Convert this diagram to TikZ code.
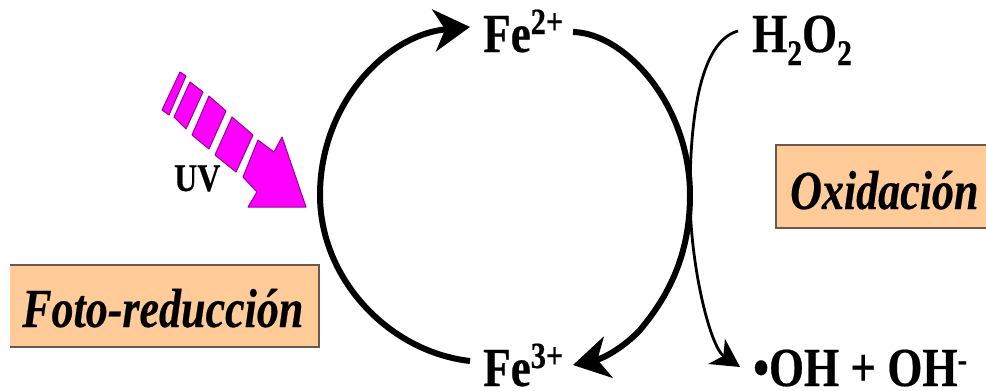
\documentclass[tikz,border=0pt]{standalone}
\usepackage{fontspec}
\usetikzlibrary{arrows.meta}
\setmainfont{Liberation Serif}
\newfontfamily\labf[FakeStretch=0.82,FakeBold=0.4]{Liberation Serif}
\newfontfamily\labi[FakeStretch=0.80,FakeBold=0.4]{Liberation Serif}
\newcommand{\bigb}{\fontsize{55}{60}\selectfont\labf\bfseries}
\newcommand{\bigi}{\fontsize{55}{60}\selectfont\labi\bfseries\itshape}
\newcommand{\supb}[1]{\raisebox{18pt}{\fontsize{37}{38}\selectfont #1}}
\newcommand{\minb}[1]{\raisebox{15pt}{\fontsize{35}{36}\selectfont #1}}
\newcommand{\subb}[1]{\raisebox{-13pt}{\fontsize{36}{37}\selectfont #1}}
\definecolor{boxfill}{HTML}{FFCC99}
\definecolor{boxline}{HTML}{6B5A4A}
\definecolor{uvmag}{HTML}{FF00FF}
\definecolor{uvline}{HTML}{990099}
\tikzset{
  chem/.style={anchor=base west,inner sep=0pt,font=\bigb},
  boxlabel/.style={anchor=base west,inner sep=0pt,font=\bigi},
  heavy/.style={line width=6pt,black},
  thinarc/.style={line width=2.8pt,black},
  heavytip/.style={-{Stealth[length=36pt,width=42pt,inset=11pt]}},
  thintip/.style={-{Stealth[length=28pt,width=30pt,inset=8pt]}},
  uvpiece/.style={draw=uvline,line width=1pt,fill=uvmag,line join=round}
}
\begin{document}
\begin{tikzpicture}[x=1pt,y=-1pt]
\useasboundingbox (0,0) rectangle (986,391);
% boxes
\fill[boxfill] (10,265) rectangle (319,347);
\draw[boxline,line width=2pt] (10,265) -- (319,265) -- (319,347) -- (10,347);
\fill[boxfill] (776,145) rectangle (986,228);
\draw[boxline,line width=2pt] (986,145) -- (776,145) -- (776,228) -- (986,228);
% labels
\node[boxlabel] (foto) at (22,327) {Foto-reducción};
\node[boxlabel] (oxi) at (790,209) {Oxidación};
\node[chem] (fe2) at (483,52) {Fe\supb{2+}};
\node[chem] (fe3) at (483,386) {Fe\supb{3+}};
\node[chem] (h2o2) at (752,52) {H\subb{2}O\subb{2}};
\node[chem] (oh) at (753,386) {•OH + OH\minb{-}};
\node[anchor=base west,inner sep=0pt,font=\fontsize{39}{40}\selectfont\labf\bfseries] (uv) at (174,191) {UV};
% connector ends
\coordinate (a1) at (470,361);
\coordinate (a2) at (320,195);
\coordinate (a3) at (470,27);
\coordinate (b1) at (573,32);
\coordinate (b2) at (690,195);
\coordinate (b4) at (640,330);
\coordinate (b3) at (573,365);
\coordinate (c1) at (738,31);
\coordinate (c2) at (690,195);
\coordinate (c3) at (740,367);
% heavy cycle
\draw[heavy,heavytip] (a1) .. controls (390,352) and (320,280) .. (a2) .. controls (320,105) and (385,35) .. (a3);
\draw[heavy,heavytip] (b1) .. controls (625,33) and (690,105) .. (b2) .. controls (690,250) and (672,292) .. (b4) .. controls (625,346) and (605,358) .. (b3);
% thin path
\draw[thinarc,thintip] (c1) .. controls (705,40) and (690,100) .. (c2) .. controls (690,265) and (710,347) .. (c3);
% UV arrow
\draw[uvpiece] (180,72) -- (186,76) -- (169,115) -- (162,110) -- cycle;
\draw[uvpiece] (190,82) -- (203,92) -- (186,129) -- (174,117) -- cycle;
\draw[uvpiece] (209,96) -- (226,111) -- (209,149) -- (192,135) -- cycle;
\draw[uvpiece] (232,117) -- (253,135) -- (236,172) -- (215,155) -- cycle;
\draw[uvpiece] (258,140) -- (274,152) -- (282,137) -- (306,207) -- (248,207) -- (257,192) -- (243,177) -- cycle;
\end{tikzpicture}
\end{document}
